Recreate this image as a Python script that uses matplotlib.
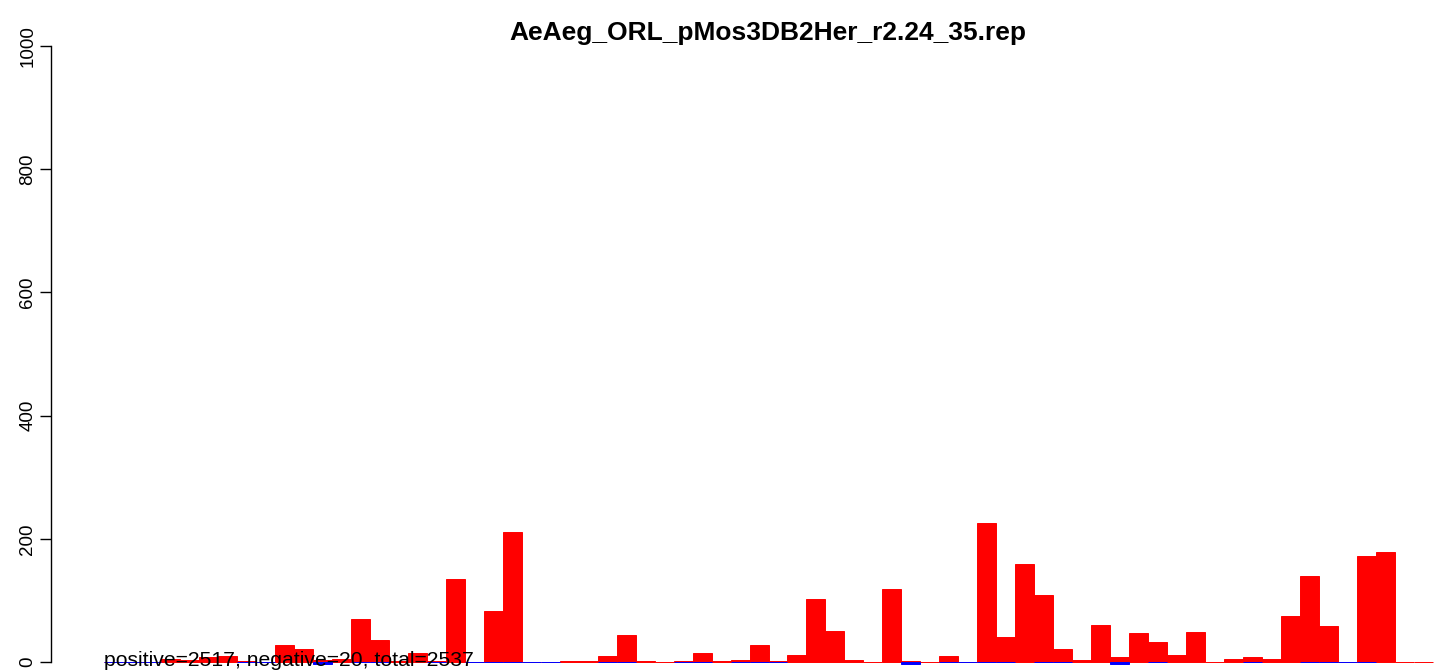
import numpy as np
import matplotlib
matplotlib.use('Agg')
import matplotlib.pyplot as plt

plt.rcParams['font.family'] = ['Liberation Sans', 'DejaVu Sans']

title = 'AeAeg_ORL_pMos3DB2Her_r2.24_35.rep'
note = 'positive=2517, negative=20, total=2537'

# positive counts per bin (red)
pos = [0, 0, 0, 5, 3, 8, 9, 2, 0, 28,
       21, 3, 5, 70, 36, 1, 15, 2, 135, 0,
       83, 211, 0, 0, 2, 1, 10, 44, 2, 0,
       2, 15, 2, 3, 28, 2, 11, 102, 50, 3,
       0, 118, 2, 0, 10, 0, 226, 41, 159, 109,
       21, 3, 60, 8, 47, 32, 11, 49, 0, 5,
       8, 5, 75, 140, 58, 0, 172, 179, 0, 0]
# negative counts per bin (blue), nan = no bar
nan = np.nan
neg = [0, 0, 0, nan, nan, nan, nan, 0, 0, nan,
       nan, -4, nan, 0, 0, nan, nan, 0, nan, 0,
       0, 0, 0, 0, nan, nan, 0, 0, nan, nan,
       0, 0, nan, 0, 0, 0, nan, nan, nan, nan,
       nan, nan, -4, nan, 0, 0, 0, 0, nan, 0,
       0, nan, nan, -3, nan, 0, nan, nan, nan, nan,
       0, nan, nan, 0, 0, 0, 0, nan, nan, nan]
yticks = [0, 200, 400, 600, 800, 1000]

W, H = 1439, 671
fig = plt.figure(figsize=(W / 100, H / 100), dpi=100)
# plot region (R style: extends past the right edge of the device)
left, right = 51, 1486
top, bottom = 21.4, 686.6
ax = fig.add_axes([left / W, (H - bottom) / H, (right - left) / W, (bottom - top) / H])

x = np.arange(len(pos))
ax.bar(x, pos, width=1, align='edge', color='red', edgecolor='red', linewidth=0.7)
negarr = np.array(neg, dtype=float)
m = ~np.isnan(negarr)
ax.bar(x[m], negarr[m], width=1, align='edge', color='blue', edgecolor='blue', linewidth=0.7)

ax.set_xlim(-2.8, 72.8)
ax.set_ylim(-40, 1040)

for s in ['top', 'right', 'bottom']:
    ax.spines[s].set_visible(False)
ax.spines['left'].set_bounds(0, 1000)
ax.spines['left'].set_linewidth(1)
ax.set_xticks([])
ax.set_yticks(yticks)
ax.set_yticklabels([str(v) for v in yticks], rotation=90, va='center', fontsize=13.5)
ax.tick_params(axis='y', length=8, width=1, pad=2.5)

ax.text(0, 3, note, ha='left', va='center', fontsize=15.25)
fig.text(768 / W, 1 - 33 / H, title, ha='center', va='center', fontsize=19, fontweight='bold')

fig.savefig('out.png', dpi=100)
